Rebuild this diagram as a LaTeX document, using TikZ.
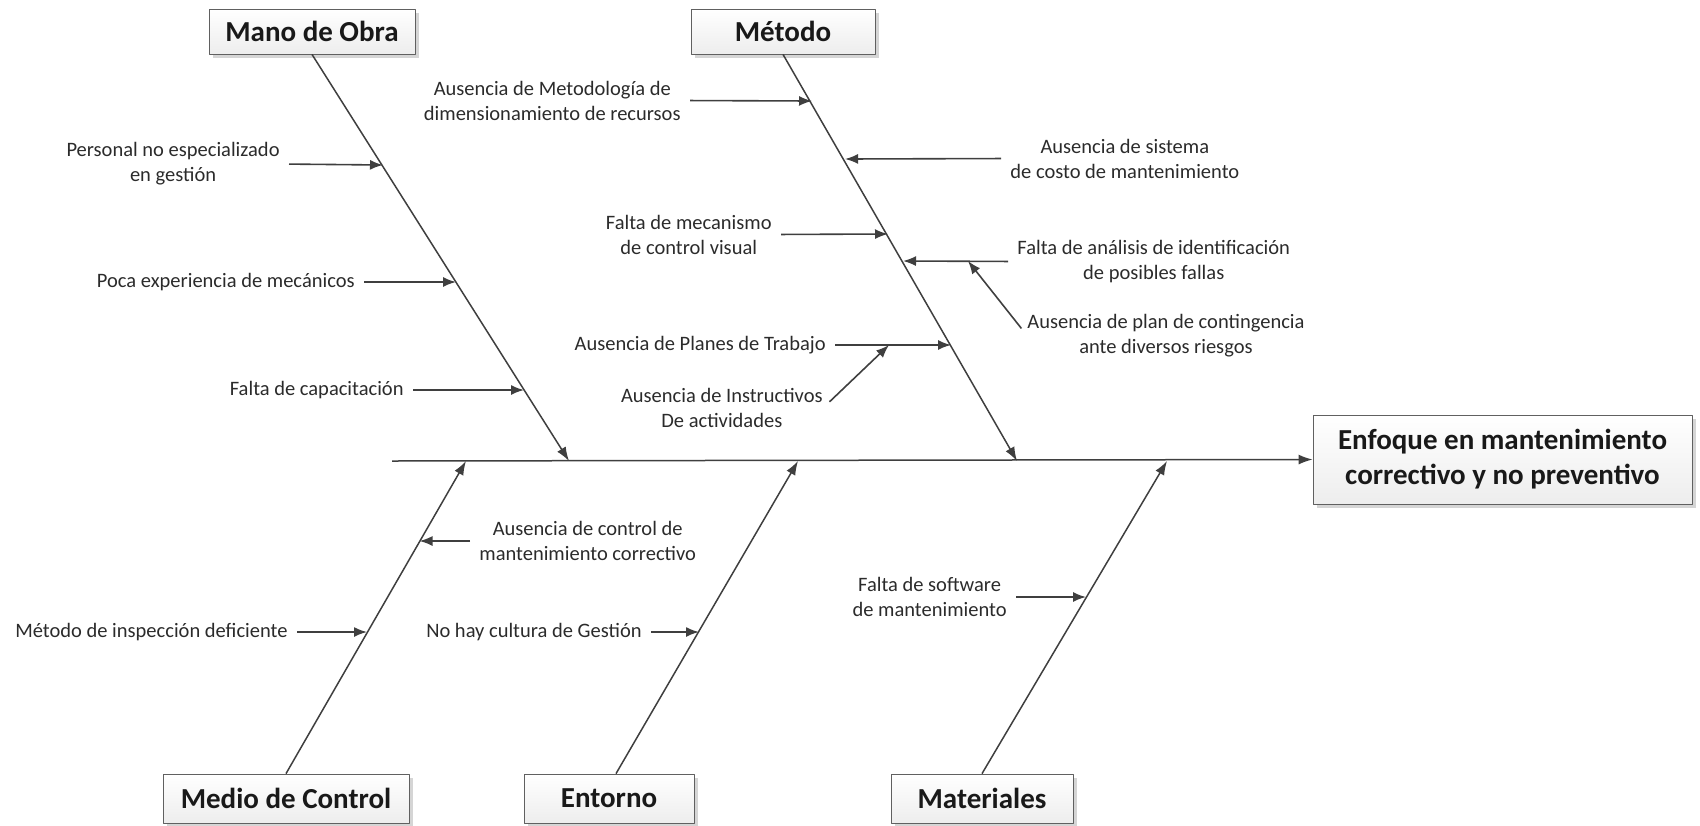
\documentclass[tikz,border=0pt]{standalone}
\usepackage{fontspec}
\setmainfont{Carlito}
\usetikzlibrary{arrows.meta,shadows}
\definecolor{ink}{HTML}{2B2B2B}
\definecolor{bonegray}{HTML}{3F3F3F}
\tikzset{
  catbox/.style={draw=gray!75!black, top color=white, bottom color=gray!14,
    drop shadow={shadow xshift=2pt, shadow yshift=-2pt, fill=gray!55, opacity=.6},
    font=\fontsize{14.5}{17.5}\selectfont\bfseries, text=black!90,
    align=center, inner sep=0pt, minimum height=22.5pt},
  cause/.style={font=\fontsize{10.25}{12.5}\selectfont, text=ink, align=center, inner sep=0pt},
  bone/.style={draw=bonegray, line width=0.75pt, -{Latex[length=7pt,width=5pt]}},
  twig/.style={draw=bonegray, line width=0.8pt, shorten <=4.5pt, -{Latex[length=6.5pt,width=5pt]}},
}
\begin{document}
\begin{tikzpicture}[x=0.5pt, y=-0.5pt, line join=round]
\useasboundingbox (0,0) rectangle (1700,825);
% cabeza y espina
\node[catbox, minimum width=189.5pt, minimum height=44.5pt] (efecto) at (1502.5,459.5)
  {Enfoque en mantenimiento\\correctivo y no preventivo};
\coordinate (cola) at (392,461);
\draw[bone] (cola) -- (efecto.west);
% categorias
\node[catbox, minimum width=103pt] (mano)    at (312,31.5)  {Mano de Obra};
\node[catbox, minimum width=92pt]  (metodo)  at (783,31.5)  {Método};
\node[catbox, minimum width=123pt, minimum height=24.5pt] (medio)   at (286,798.5) {Medio de Control};
\node[catbox, minimum width=85pt,  minimum height=24.5pt] (entorno) at (609,798.5) {Entorno};
\node[catbox, minimum width=91pt,  minimum height=24.5pt] (material) at (982,798.5) {Materiales};
\coordinate (sMano)  at (569,461);
\coordinate (sMet)   at (1017,461);
\coordinate (sMedio) at (466,461);
\coordinate (sEnt)   at (798,461);
\coordinate (sMat)   at (1167,461);
\draw[bone] (mano.south) -- (sMano);
\draw[bone] (metodo.south) -- (sMet);
\draw[bone] (medio.north) -- (sMedio);
\draw[bone] ([xshift=3.5pt]entorno.north) -- (sEnt);
\draw[bone] (material.north) -- (sMat);
% Mano de Obra
\coordinate (m1) at (383,165);
\coordinate (m2) at (456,282);
\coordinate (m3) at (524,390);
\node[cause, anchor=east] (personal) at (280,164) {Personal no especializado\\en gestión};
\node[cause, anchor=east] (poca)     at (355,282) {Poca experiencia de mecánicos};
\node[cause, anchor=east] (capacit)  at (404,390) {Falta de capacitación};
\draw[twig] (personal.east) -- (m1);
\draw[twig] (poca.east) -- (m2);
\draw[twig] (capacit.east) -- (m3);
% Metodo
\coordinate (e1) at (812,101);
\coordinate (e2) at (845,159);
\coordinate (e3) at (888,234);
\coordinate (e4) at (903,261);
\coordinate (e5) at (951,345);
\coordinate (cruce1) at (968,261);
\coordinate (cruce2) at (889,345);
\node[cause, anchor=east] (metodol)   at (681,100.5)  {Ausencia de Metodología de\\dimensionamiento de recursos};
\node[cause, anchor=west] (costo)     at (1010,158.5) {Ausencia de sistema\\de costo de mantenimiento};
\node[cause, anchor=east] (visual)    at (772,234.5)  {Falta de mecanismo\\de control visual};
\node[cause, anchor=west] (analisis)  at (1017,261.5) {Falta de análisis de identificación\\de posibles fallas};
\node[cause, anchor=west] (conting)   at (1027,335.5) {Ausencia de plan de contingencia\\ante diversos riesgos};
\node[cause, anchor=east] (planes)    at (826,345)    {Ausencia de Planes de Trabajo};
\node[cause, anchor=east] (instruct)  at (823,408)    {Ausencia de Instructivos\\De actividades};
\draw[twig] (metodol.east) -- (e1);
\draw[twig] (costo.west) -- (e2);
\draw[twig] (visual.east) -- (e3);
\draw[twig] (analisis.west) -- (e4);
\draw[twig] (conting.west) -- (cruce1);
\draw[twig] (planes.east) -- (e5);
\draw[twig] (instruct.east) -- (cruce2);
% Medio de Control
\coordinate (c1) at (419.5,541);
\coordinate (c2) at (367,632);
\node[cause, anchor=west] (ctrlcorr) at (479,541) {Ausencia de control de\\mantenimiento correctivo};
\node[cause, anchor=east] (inspecc)  at (288,632) {Método de inspección deficiente};
\draw[twig] (ctrlcorr.west) -- (c1);
\draw[twig] (inspecc.east) -- (c2);
% Entorno
\coordinate (n1) at (699,632);
\node[cause, anchor=east] (cultura) at (642,632) {No hay cultura de Gestión};
\draw[twig] (cultura.east) -- (n1);
% Materiales
\coordinate (a1) at (1086,597);
\node[cause, anchor=east] (software) at (1007,597) {Falta de software\\de mantenimiento};
\draw[twig] (software.east) -- (a1);
\end{tikzpicture}
\end{document}
